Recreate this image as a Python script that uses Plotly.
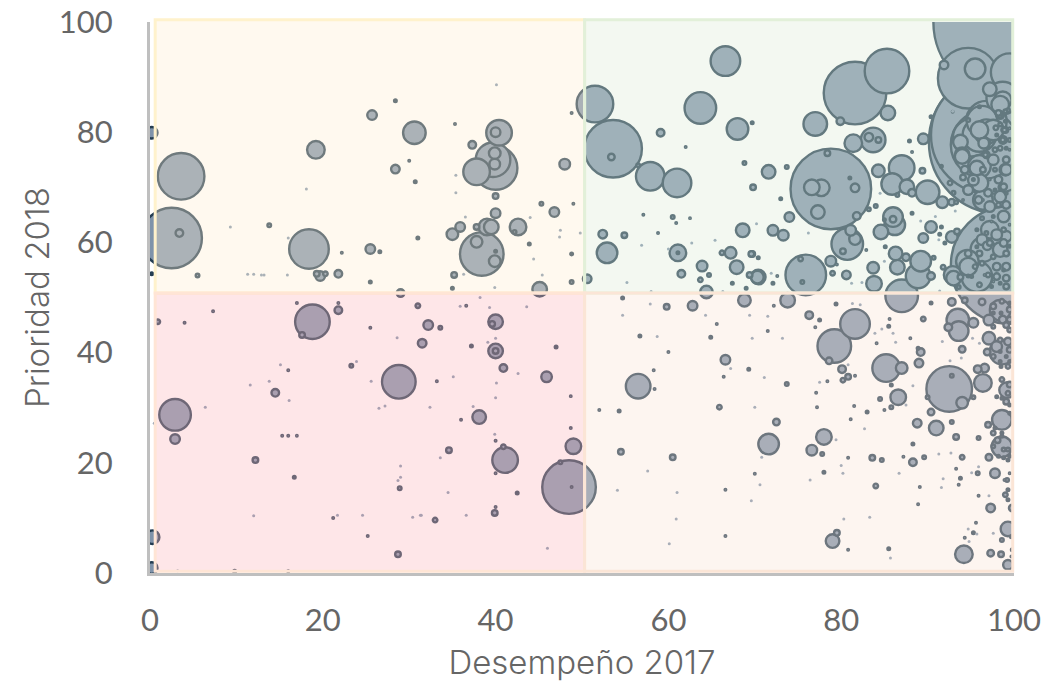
import numpy as np
import plotly.graph_objects as go

# --- bubbles: Desempeño 2017 (x), Prioridad 2018 (y), peso (diámetro)
x_verde_a = [81.6,85.3,85.4,79.9,77,83.7,83.2,84.3,81.4,78.8,76.6,77.7,81.6,77.3,78.4,81,81.8,83.2,84,71.6,73.7,69.8,69.7,73,74,72.1,73.3,80.7,81.1,81.6,80.2,75.9,75.3,75.5,78.8,79,80.6,79.5,82.9,69.7,70.4,70.4,72.1,72.6]
y_verde_a = [87.1,91.1,83.5,82,81.5,78.6,79.1,78.6,78,69.7,70,69.9,69.9,65.5,76.2,71.7,64.8,66,66.6,72.8,73.7,70,81.7,67.9,64.6,62.2,61.3,59.7,62.2,60.6,58.4,54.1,57,52.8,56.6,54.4,54.1,56,58.6,57.9,57.2,53.7,52.6,53.9]
d_verde_a = [65,47,17,10,26,27,11,8,20,83,18,19,11,16,8,5,10,6,6,16,6,8,5,5,12,13,13,34,13,14,8,43,7,6,13,7,11,4,4,8,5,17,5,4]

x_verde_b = [84.3,87,85.9,87.6,88.2,90,89.4,86.5,87.9,88.2,89.5,91.7,92.8,93.3,86,86.2,84.6,86,85,88.2,90.4,89.5,91.6,91.4,92,92.8,93.4,86.3,86.5,87.5,89.2,88.9,90.4,90.7,85.1,83.7,83.8,87,92.9,94.6,91.8,93.6,93.8,94.7]
y_verde_b = [73,73.5,70.6,70.1,69,69.1,73,68.6,78.4,76.4,78.8,67.3,67.3,67.3,64.6,63.2,61.9,64.2,64.1,65.3,62.8,60.8,62.8,61.5,59.9,61,62,58,55.5,57.3,56.6,53.9,53.9,57.2,59.2,55.4,52.5,50.3,54.1,56.6,55.5,51.9,53.7,53.9]
d_verde_b = [15,28,24,17,10,26,8,6,5,4,13,14,9,6,22,23,17,9,5,5,14,12,5,5,5,14,8,16,17,10,23,27,10,6,5,14,18,35,20,25,7,6,8,5]

x_verde_c = [51.5,53.6,53.4,57.9,61,56.5,66.6,63.7,68,59.1,62,68.8,52.4,54.9,52.9,57.1,60.5,60.9,62.5,58.8,68.6,61.1,61.1,63.9,61.5,64.7,63.7,66.2,67.2,67.9,69.6,69.4,70.3,64.4,67.4,69]
y_verde_c = [85.1,77,75.5,72,70.8,74,92.9,84.4,80.6,79.9,77.3,74.4,61.5,61.3,58.1,65,64.6,63.5,64.4,61.7,62.2,58.1,58.1,55.7,54.3,54.1,53.2,58.1,58.1,55.5,57.9,54.1,53.7,51,52.6,51.7]
d_verde_c = [39,60,9,31,31,6,32,34,24,10,4,6,11,8,23,4,6,4,3,4,16,19,5,13,10,6,7,7,14,16,8,8,15,15,5,5]

x_arriba = [99.5,94.7,95.5,91.9,98.4,97.2,96.6,97.2,98.7,99.5,98.7,98.4,93.8,96.6,94,94.7,96,92.9,90.4,98.7,99,97.9,98.8,99,99.3,96.3,96.8,96,98.8,98.4,99.1,96.5,96,96,95.3,94.7,96.7,98.6,99.1,98.7,98.3,98.9,94.1,96.4]
y_arriba = [100,89.8,91.5,92.2,78.2,79.5,77.7,87.8,85.8,90.9,86.2,83.1,78.2,78,75.9,82.2,84.6,83.7,82.8,78.6,80.4,80.8,80.4,82,84,82,80.1,79.5,78.6,77.1,77.1,78,80.4,73.8,71.3,69.5,75.9,70,73.2,78.6,83.1,80.4,71.8,67.7]
d_arriba = [155,63,23,11,145,120,70,16,20,40,35,10,17,13,17,6,5,4,5,10,8,7,7,5,6,33,27,36,9,7,5,13,20,25,13,12,7,9,13,7,8,7,8,22]

x_racimo = [94,96.8,91.6,94.7,95.7,95.9,93,98.2,98.8,96,95.3,97.6,99,99.1,98.4,97.2,96.3,94.1,97.4,95.7,98.2,99.1,98.8,97.2,99.1,96.4,96.9,95.5,94.7,98.4,98,99.1,97,98,99.1,98.4,99.1,97.4,96.3,95.1,99.5]
y_racimo = [75.6,75.9,73.8,69.5,73.5,67.7,69,71.4,70.1,70.8,71.4,75,73.2,75,68.3,66.5,64.4,67.7,63.8,62.3,66.8,66.8,64.7,62.3,61.1,58.7,59.4,55.6,58,58.7,55.6,58,54.1,53.8,55.6,52.6,53.5,52,56.2,53.8,55.9]
d_racimo = [17,9,5,12,17,10,6,10,9,20,5,13,14,9,14,13,6,4,4,5,7,10,14,20,13,27,11,7,9,17,10,8,7,9,10,5,9,5,7,5,120]

x_denso_a = [94.7,96,97.6,97.2,95.7,98.8,99.5,96.3,96.6,98.8,97.6,96,99.1,95.7,93,98,96.8,98.8,97.6,99.5,97,96.4,97.8,99.1,96.4,97.8,97.2,94.3,92.6]
y_denso_a = [55.6,58,57.4,59.9,59.2,59.9,59.3,60.5,54.1,55,52.9,52.3,52,53.8,53.5,61.4,61.7,62.3,64.7,63.2,69,67.7,69.5,68.9,73.2,73.2,71.4,73.2,70.8]
d_denso_a = [20,8,7,8,5,10,5,13,4,5,4,7,8,33,17,13,6,7,5,4,10,4,5,5,8,6,4,10,7]

x_denso_b = [96.8,97.6,98.4,99,98.4,98.2,98,99.5,99.5,97.8,99.5,95.1]
y_denso_b = [82,80.4,81.4,83.8,85,83.5,79.5,80.7,78.6,76.8,76.8,79]
d_denso_b = [43,23,6,6,20,8,5,4,6,7,4,40]

x_denso_c = [97.6,98.7,97.6,99.5,98.4,99.5,97.6,99.5,98.4,99.5,98.6,99.5,99.3,99.5,97.8,98.6,97.6,98.2,99.5,99.5,99.3,99.7,99.7,98.9]
y_denso_c = [48.4,46,44.7,47.8,42.3,44.1,39.3,40.5,38.4,38.4,35.1,34.2,32.6,29,26.3,24.8,23,21.2,21.2,18.1,13.3,6.6,3,16.9]
d_denso_c = [8,10,6,8,7,7,7,8,5,5,7,8,7,5,5,5,6,5,5,4,5,5,4,4]

x_amarillo = [3.6,2.5,3.4,5.5,13.8,18.4,19.2,25.7,28.4,30.6,28.4,30,30.7,31,25.5,26.6,22.2,21.8,19.7,19.3,20.3,25.5,29,0.2,0.2,40.4,40,37.3,48,40,39.7,39.9,39.9,37.8,40,48.8,35.3,40,42.6,42.2,39.5,39,35.9,35,37.8,38.4,37.8,39.9,40,45.3,46.8,49,43.9,48.8,35.2,35,48.8,45.1,50.6]
y_amarillo = [72,60.8,61.7,54,63.1,58.8,76.8,83.1,85.7,79.9,73.3,74.8,71,60.8,58.8,58.3,58.1,54.3,53.9,54.3,54.3,52.8,50.8,79.9,54.3,79.9,80,77.7,74.2,73.5,75,76.2,74.2,72.8,68.4,83.5,81.5,65.3,62.8,61.9,62.8,62.8,62.8,61.5,62.8,57.9,60.1,56.6,58.4,67,65.5,67,59.7,57.9,54.1,51.7,52.8,51.5,53.4]
d_amarillo = [49,63,10,6,6,42,20,12,5,25,11,4,5,5,12,5,4,10,12,8,7,5,10,14,5,28,12,10,13,46,37,14,13,29,8,4,4,12,19,6,17,19,12,14,8,46,14,14,5,6,12,4,5,5,8,5,6,17,11]

x_rosa = [48.5,47.5,48.8,49,41.1,40.9,40,40,38.1,36,34.6,42.5,39.9,40,33,45.9,40.9,33.2,40,40,37.2,47,40,39.6,32.2,33.6,31.5,36.6,48.7,48.7,18.8,17.6,21.8,17,21.8,2.9,2.9,28.8,14.5,16,23.3,12.2,16.7,15.3,16,17,28.9,28.7,25.2,21.2,7.3,4,0.9,25.5,31,0.3,0.2,9.8,16]
y_rosa = [15.6,20.1,15.6,23,20.5,22.9,18.1,24,28.3,27.8,22.3,14.5,10.9,12,9.6,35.6,37.2,34.8,40.3,40.3,41.2,41,45.6,45.2,45,44.5,41.7,48.5,26.3,32.1,45.6,43.2,47.7,49,49,28.7,24.3,34.7,32.7,36.8,37.6,20.5,17.4,24.9,24.9,24.9,15.4,3.4,6.7,10,47.5,45.4,45.6,44.5,48.5,6.5,0.9,0.3,0.3]
d_rosa = [56,6,4,18,28,7,4,4,16,4,8,5,8,4,7,13,10,4,17,8,5,5,17,8,12,6,11,4,4,3,37,8,10,4,4,34,12,36,10,4,6,8,5,4,4,3,6,8,4,4,4,4,7,4,7,16,14,5,4]

x_salmon_a = [73.8,76.3,77.5,77,79.4,81.6,79.2,78.6,80.1,80.8,80.2,81.6,78.4,73.7,77.1,77.2,81.5,85.6,85.5,84.1,88,85.2,87,85.8,89,89.2,88.9,86.6,84.5,85.8,85,83,81.1,78,76.6,77.8,80.8,83.6,84.7,87.2,88.3,89.6,88.3,88.8,91,79,79.5,80.8,85.5,84,78,89.1,88.9]
y_salmon_a = [49.5,46.8,45.9,44.6,48.8,45.2,41.2,38.5,37,35.6,35,35.8,34.8,34.3,32.7,30.1,30.3,46.1,44.8,41.7,42.6,37.2,37.2,34.1,38.1,40.1,40.8,31.9,31.6,30.1,29.6,29.2,27.9,24.7,22.3,21.6,20.9,20.9,20.5,21.1,20.1,21,23.4,27.2,26.3,5.8,7.3,4.2,4.4,15.8,18.3,15.6,12.5]
d_salmon_a = [17,10,5,4,5,32,36,9,10,8,7,4,4,6,4,4,4,4,5,4,4,30,14,5,11,10,5,18,6,6,4,5,4,18,13,6,4,8,6,4,10,6,5,11,17,16,8,4,5,7,5,4,4]

x_salmon_b = [92.5,94,92.8,90,90.4,95.3,93.5,93.6,92.4,95.3,89.5,92.8,94.3,90.4,96.3,97.1,98.4,97.1,94,96.9,98.6,96.4,95.8,96.6,98.6,99.2,98.6,97,98.1,97.1,94,93.3,95.9,92.8,97.8,95.8,93.8,93.3,93.6,99.2,99,95.9,97.3,99.8,99.3,95.6,95.3,94.3,98.6,97.3,98.5,94.2,99.3,99.8]
y_salmon_b = [33.4,30.9,35.8,31.9,29.2,31.9,45.9,43.9,44.6,45.4,46.1,49.2,49.5,49,49.2,45.9,47.7,42.6,40.6,40.1,40.1,34.5,37,37.2,27.8,33.2,22.9,26.9,24.1,21,21,24.7,24.5,27.4,18.1,18.1,17.2,18.9,16,16.9,14.2,14,11.8,11.8,8,9.1,7.3,6.4,6,3.6,3.4,3.4,1.5,4.2]
d_salmon_b = [48,14,6,6,9,6,25,22,10,12,7,10,8,5,9,13,23,15,9,9,27,20,10,11,22,18,23,8,8,9,7,8,6,6,12,6,5,4,4,6,7,4,11,9,17,4,5,4,6,9,8,20,12,5]

x_salmon_c = [56.5,58.4,58.3,60,56.7,64.9,65.6,66.6,69.3,66.4,65.9,72.5,71.6,54.5,60.5,52,54.3,59.8,62.8,68.8,54.7,70,66.6,66.6,71.5,72.2,98.6,99.5,98.5,99.5,99.1,97.6,98,99.3,98.4,99.1,98.5,99.3,98,98.6,99.1,99.5,97.6,98.6,98.8,99.3,98.8,99.3,99.3]
y_salmon_c = [33.9,33.4,36.8,40.1,43,42.8,45.2,38.7,37,35.6,30.1,27.4,23.4,22,21,29.6,29.4,48.3,48.5,49.5,49.9,18,15.1,6.7,43.9,48.5,49.3,49,47.2,46,45,47.2,41.1,42,40.2,39.3,37.5,37.5,32,31.7,31.1,30.5,25.4,25.4,22.4,22.4,20.9,20.5,15.1]
d_salmon_c = [27,4,4,4,5,5,4,12,5,4,7,9,23,8,8,4,5,8,12,15,5,4,4,4,4,4,7,5,5,8,8,5,13,10,5,5,5,7,5,5,8,5,7,5,6,6,5,5,5]

# puntos diminutos
x_motas = [40.1,40,35.1,32.4,37.4,33.6,34.5,36.6,46,31.4,42.6,57.6,54.1,61,60.9,60.1,70.6,69.6,70.8,70,71.1,67.2,58.7,54.7,57.9,64.3,69.4,71.5,69.7,73.2,39.9,39.1,40,39.3,43.6,38.2,35.9,15.1,13.8,11.6,16.1,6.4,0.5,23.9,25.6,27.2,28.6,26.5,27.2,29,29,28.7,30.4,31.3,24.6,21.7,12,3.2,18.1,9.3,16,11.3,12,12.9,13.2,15.9,40.1,35.4,35.4,36.5,44,47.5,47.4,49.8,44.4,45.4,39.9,36.3,56.9,62.7,65.4,55.2,70.2,60,58,66.3,81.3,82.2,83.9,84.7,86,86.3,81.5,82.5,77.5,80.8,88.3,87.5,82.7,79.4,80,80.2,76.4,86.7,91.3,92.7,91.8,91.6,80.3,83.3,85.7,97.6,95.7,94.7,94.8,95.1,95.9,97.1,92.6,93.9,96,91.7,95.2,76.2,81.2,81.6,84.5,85,89.2,90.9,93.2,91.3,71.9,81.2,82.4,91.4,91.2,92.9]
y_motas = [34.5,31.8,35.6,30.1,30.2,20.9,14.6,10.5,4.5,10.5,36.2,18.5,15,14.6,9.8,5.3,16,13.1,21,30.1,35.5,37.1,42.9,46.8,48.8,46.8,46.8,46.6,42.6,42.6,25.2,41.9,42.6,48.2,48.3,50,48.4,37.8,34.8,34.1,31.3,30.1,27.2,38.4,34.8,34.5,42.7,29.9,30.3,19.4,17.4,16.8,10.1,10.5,10.5,10.5,10.4,0.4,69.7,62.8,60.8,54.2,54.2,54.1,54.1,54.1,88.6,72.2,69,64.6,64.5,62.2,61,61.7,57,54.1,51.8,54.2,59.5,59.9,60.4,52.7,63.4,58.8,51.1,51.1,48.9,48.7,43.5,44.3,43.5,41.9,45.2,45.4,34.6,37.8,34,30.5,26.2,24.2,19.5,18.1,16.9,18.1,21.6,21.8,17.1,15.5,9.8,10.1,2.7,7.2,7.1,8,5.7,18.2,19.3,14,38.5,39,41.7,42,42.6,61.7,73.2,66.8,68.9,56.6,63.9,64.7,65.7,60.5,54.4,52.6,52.7,51.2,79.2,83.8]

ticks = [0, 20, 40, 60, 80, 100]
titulo_x = "Desempeño 2017"
titulo_y = "Prioridad 2018"

x = np.array(x_verde_a + x_verde_b + x_verde_c + x_arriba + x_racimo + x_denso_a + x_denso_b + x_denso_c + x_amarillo + x_rosa + x_salmon_a + x_salmon_b + x_salmon_c, dtype=float)
y = np.array(y_verde_a + y_verde_b + y_verde_c + y_arriba + y_racimo + y_denso_a + y_denso_b + y_denso_c + y_amarillo + y_rosa + y_salmon_a + y_salmon_b + y_salmon_c, dtype=float)
d = np.array(d_verde_a + d_verde_b + d_verde_c + d_arriba + d_racimo + d_denso_a + d_denso_b + d_denso_c + d_amarillo + d_rosa + d_salmon_a + d_salmon_b + d_salmon_c, dtype=float)
orden = np.argsort(-d, kind="stable")
x, y, d = x[orden], y[orden], d[orden]

LW = 2.4
fig = go.Figure()
fig.add_trace(go.Scatter(
    x=x, y=y, mode="markers", showlegend=False, hoverinfo="skip",
    marker=dict(size=np.maximum(d - LW, 1.5), sizemode="diameter", color="#7F93AA", opacity=1,
                line=dict(color="#233C51", width=LW)),
))
fig.add_trace(go.Scatter(
    x=x_motas, y=y_motas, mode="markers", showlegend=False, hoverinfo="skip",
    marker=dict(size=3, color="#7F93AA", opacity=1, line=dict(width=0)),
))

# cuadrantes
X0, XM, X1 = 0.006, 0.503, 0.9985
Y0, YM, Y1 = 0.003, 0.508, 1.004
cuadrantes = [
    (X0, XM, YM, Y1, "rgba(255,238,209,0.35)", "#FFF2CC"),
    (XM, X1, YM, Y1, "rgba(221,235,215,0.35)", "#E2F0D9"),
    (X0, XM, Y0, YM, "rgba(252,184,190,0.35)", "#FFE5D5"),
    (XM, X1, Y0, YM, "rgba(249,227,212,0.35)", "#FBE5D6"),
]
for a, b, c, e, relleno, borde in cuadrantes:
    fig.add_shape(type="rect", xref="paper", yref="paper", x0=a, x1=b, y0=c, y1=e,
                  fillcolor=relleno, line=dict(color=borde, width=3), layer="above")

FONT_TICK = "Lato, 'Open Sans', sans-serif"
FONT_TIT = "Inter, 'Open Sans', sans-serif"
eje = dict(range=[0, 100], tickvals=ticks, ticktext=[str(t) for t in ticks], automargin=False,
           showgrid=False, zeroline=False, showline=True, linecolor="#BFBFBF", linewidth=3,
           ticks="outside", tickcolor="rgba(0,0,0,0)", tickwidth=1,
           tickfont=dict(family=FONT_TICK, size=31, color="#666666"))
fig.update_layout(
    width=1048, height=683, margin=dict(l=150, r=34, t=22, b=110, autoexpand=False),
    paper_bgcolor="white", plot_bgcolor="white", showlegend=False,
    xaxis=dict(eje, ticklen=18, title=dict(text=titulo_x, standoff=14,
               font=dict(family=FONT_TIT, size=33, weight=300, color="#666666"))),
    yaxis=dict(eje, ticklen=28, title=dict(text=titulo_y, standoff=0,
               font=dict(family=FONT_TIT, size=33, weight=300, color="#666666"))),
)
fig.write_html("out.html", config={"displayModeBar": False},
               post_script="document.body.style.margin='0';")
